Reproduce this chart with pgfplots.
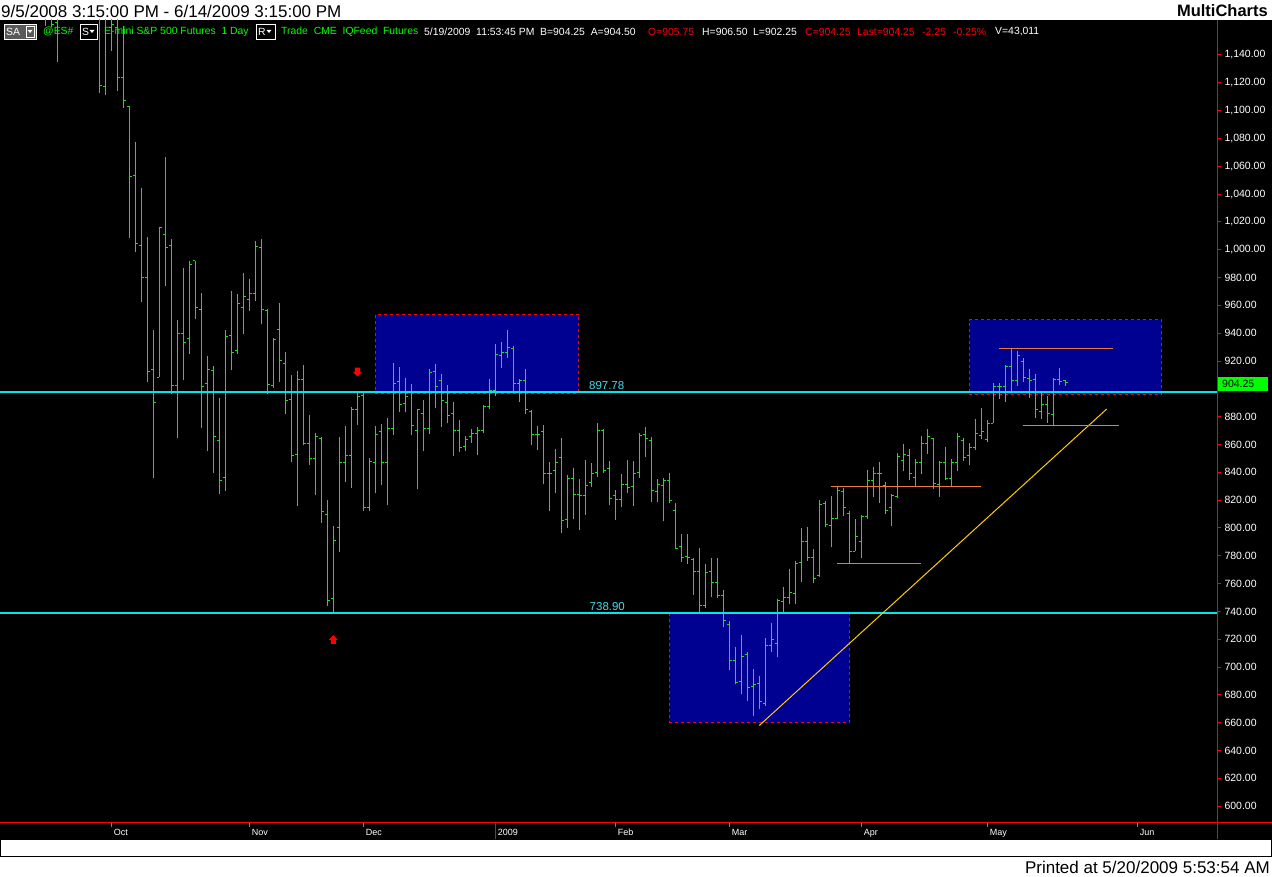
\documentclass[border=0pt]{standalone}
\usepackage{fontspec}
\setmainfont{Liberation Sans}
\usepackage{pgfplots}
\usepackage{pgfplotstable}
\pgfplotsset{compat=1.18}

\definecolor{barg}{RGB}{30,225,30}
\definecolor{cyanl}{RGB}{0,230,235}
\definecolor{cyant}{RGB}{70,215,235}
\definecolor{boxblue}{RGB}{0,0,145}
\definecolor{lvl}{RGB}{232,122,64}
\definecolor{trend}{RGB}{255,204,0}
\definecolor{hdrgreen}{RGB}{0,255,0}
\definecolor{hdrred}{RGB}{255,0,0}

% open / close ticks of an OHLC bar
\pgfdeclareplotmark{otick}{\pgfpathmoveto{\pgfqpoint{-2.6pt}{0pt}}\pgfpathlineto{\pgfqpoint{0pt}{0pt}}\pgfusepathqstroke}
\pgfdeclareplotmark{ctick}{\pgfpathmoveto{\pgfqpoint{0pt}{0pt}}\pgfpathlineto{\pgfqpoint{2.6pt}{0pt}}\pgfusepathqstroke}
\pgfdeclareplotmark{dnarrow}{%
  \pgfpathmoveto{\pgfqpoint{-2.5pt}{4.4pt}}\pgfpathlineto{\pgfqpoint{2.5pt}{4.4pt}}%
  \pgfpathlineto{\pgfqpoint{2.5pt}{0.3pt}}\pgfpathlineto{\pgfqpoint{4.4pt}{0.3pt}}%
  \pgfpathlineto{\pgfqpoint{0pt}{-4.4pt}}\pgfpathlineto{\pgfqpoint{-4.4pt}{0.3pt}}%
  \pgfpathlineto{\pgfqpoint{-2.5pt}{0.3pt}}\pgfpathclose\pgfusepathqfill}
\pgfdeclareplotmark{uparrow}{%
  \pgfpathmoveto{\pgfqpoint{-2.5pt}{-4.4pt}}\pgfpathlineto{\pgfqpoint{2.5pt}{-4.4pt}}%
  \pgfpathlineto{\pgfqpoint{2.5pt}{-0.3pt}}\pgfpathlineto{\pgfqpoint{4.4pt}{-0.3pt}}%
  \pgfpathlineto{\pgfqpoint{0pt}{4.4pt}}\pgfpathlineto{\pgfqpoint{-4.4pt}{-0.3pt}}%
  \pgfpathlineto{\pgfqpoint{-2.5pt}{-0.3pt}}\pgfpathclose\pgfusepathqfill}

% daily bars, k = trading day index from 9/5/2008
\pgfplotstableread{
k o h l c
7 1200 1215 1161 1205
8 1205 1210 1160 1162
9 1163 1200 1135 1195
16 1200 1215 1113 1118
17 1117.5 1170 1111 1166
18 1160 1170 1143 1162
19 1160 1168 1114 1124
20 1124 1160.8 1101.7 1107.5
21 1103 1103.4 1008.3 1053
22 1053.6 1077.5 998.7 1004.7
23 1003.3 1044.5 962.2 980.3
24 980 1009.3 904.6 912.3
25 913.6 942.4 835.6 890.5
26 908.3 1016.6 908.3 1016
27 1011 1067 973.6 1001.9
28 1003 1007.8 896 902.7
29 902.7 949.6 864.4 940
30 940 987 906.5 933
31 936.5 992 924.7 989.6
32 992 992 949.9 958.8
33 956.7 968.8 871.6 902
34 904 923.3 855 914.2
35 913.3 916.6 839.3 865.6
36 863 893.4 824.2 833.8
37 836 942.2 826.3 937.9
38 938 970.5 913.2 926.4
39 927.5 968.3 925.4 961
40 958.8 983.4 939.1 966.7
41 964.4 979 956.3 968.8
42 968.8 1006.4 962.8 1002.6
43 1001.6 1007.8 946.3 957.3
44 956.3 957.3 896 903.4
45 902.4 936.7 900.5 935.8
46 943 961.6 904.6 920.7
47 918.5 926.4 881.6 891.9
48 892.6 909.9 847.1 852.4
49 853 912.8 815.5 907
50 907 917 859.4 861
51 861 881 845.6 850.2
52 850.2 868.2 823.4 866
53 864.3 865.4 803.4 811.5
54 810 820 743.7 747.6
55 749 801.4 739 791.3
56 800 865.4 782.4 847.4
57 846.7 873.3 832.8 852.4
58 852.4 886.9 828.4 885.5
59 885.5 897 873.7 894.8
60 895 897 812 815
61 815 850.3 812 848
62 847.4 873.5 824.9 867.5
63 869.6 874.9 830.6 846.7
64 846.7 879.2 816.3 871.8
65 871.8 918.7 866.5 904.1
66 905.5 915.8 883.7 889
67 889.7 907.7 883.7 894.8
68 898.4 903.6 866.5 874
69 870 885.5 827.8 885.5
70 882.6 892.1 855 871.8
71 871.8 914.4 867.2 912
72 912.7 918 885.9 902
73 906.3 910.6 872.3 891.9
74 890.5 902.7 875.1 880.5
75 882.6 890.5 851.5 870
76 870 877.6 854.3 857.5
77 858.2 866 855 863.9
78 866 871 861.4 868.2
79 868.2 872.5 852.1 870.3
80 870.3 888.4 868 887.6
81 887 907 885.2 899
82 899 932.3 895.2 925
83 924.2 933.8 915.3 926.4
84 926.4 942.4 922.5 930
85 929.3 931 898.1 904
86 904 907 890.2 906.3
87 906.3 914.2 881.6 884.8
88 884 884.8 859.4 867.5
89 867.5 873.3 855.8 867.5
90 869.6 874 831.4 838.8
91 838.8 847.4 812 838.8
92 841 856.8 824.9 847.4
93 851 864.9 796.1 805
94 806 838.3 799.8 835.9
95 835.9 843.3 806.2 824.4
96 823.7 835.4 798.3 823
97 823 848.8 809.5 830.2
98 833 846.7 829.7 838.8
99 840 875.6 836.3 870.4
100 870.4 871 839.5 841.6
101 842.4 848.3 816.3 821.5
102 823 827 805.5 820.8
103 820.8 839 814.8 830.9
104 830.9 848.8 824.9 828.8
105 829.5 848.3 815.5 839.5
106 840.2 868.4 835.6 866.8
107 867.5 872.7 851.3 864
108 863 865.6 818.4 826.6
109 826 835.4 818.4 830.9
110 830.2 835.9 804.8 834.4
111 834.4 839.7 817.7 819.4
112 812.9 818.2 784.6 784.9
113 787 795.7 775.6 778.4
114 779.5 795.7 774.1 778.4
115 777 778.4 751.8 768.4
116 769 785.6 739 743.9
117 743.9 774.1 742.5 767.7
118 768.4 778.4 750.4 760.5
119 760.5 778.4 749.7 751.1
120 751.1 755.4 728.6 733.2
121 730.3 733.2 697.7 704.4
122 704.4 714.5 687.6 688.6
123 689.3 723.1 680.4 707.3
124 708.7 710.9 675.7 685
125 686 698.7 664.7 687.2
126 688 693.7 669.7 675
127 673.6 720.9 671.8 715.2
128 715.2 731.8 710.9 719.5
129 716.7 748.9 707 747.5
130 746.8 757.6 739 749.7
131 749.7 770.5 745.4 753.3
132 752.6 776.3 745.2 774.1
133 775 800 760.9 790.6
134 790 800.7 776 779
135 779 784.9 760.2 763.4
136 765.5 820 764.8 816.6
137 817.3 819.4 800.4 802.8
138 802.1 823 786 807.1
139 807.1 829.5 806.2 826.6
140 825.9 828.8 808.3 815
141 810.7 812.2 774.8 783.4
142 783.4 806.4 783.2 794.2
143 790 809.3 778.2 807.9
144 808 841.6 806.4 834.4
145 834.4 843.8 822 839.5
146 839.5 847.4 817.7 839.5
147 830.2 833 809.8 812.9
148 814.4 824.4 801.3 823
149 822.4 853.8 821.2 851.7
150 848.2 860.3 840.9 853.1
151 852.4 856.7 834.5 839.5
152 836.6 849.5 830.2 847.4
153 847.4 866 838.8 861
154 861 871.1 853.2 866
155 864.6 864.6 827.8 832.3
156 830.9 848.2 822.4 846.7
157 846.7 858.2 834.5 835.9
158 835.2 849.5 829.5 847.4
159 847.4 868.1 840.9 866
160 862.7 864.9 848 851
161 852 861 845 858
162 858 878.5 856 868
163 866.5 886.4 863.9 869
164 863.3 877.8 861.8 875.4
165 875.4 904.1 875.4 902
166 902 904.1 892.4 902
167 902 917 890.2 916.4
168 916.4 929.3 898.1 906.3
169 906.3 927.1 902 924.3
170 920 922.2 904.6 908.5
171 907.7 914.2 893.1 906.3
172 907 910.6 878.7 884.8
173 884 897 878 889
174 889 894.8 875.8 882.6
175 881.2 907.7 874 907
176 907 915 902.7 905.6
177 905.75 906.5 902.25 904.25
}\ohlc

\begin{document}
\begin{tikzpicture}[x=1pt,y=1pt]
\fill[white] (0,0) rectangle (1272,877);
\fill[black] (0,37) rectangle (1272,857);
\begin{axis}[
    at={(0pt,54pt)}, anchor=south west,
    scale only axis, width=1217pt, height=803pt,
    xmin=-0.55, xmax=202.28, ymin=587.9, ymax=1165.16,
    enlargelimits=false,
    axis x line=bottom, axis y line=right,
    axis line style={draw=red, -, line width=1pt},
    tick align=outside,
    major tick length=4pt, minor tick length=2pt,
    clip marker paths=true,
    /pgf/number format/assume math mode=true,
    ytick={600,620,640,660,680,700,720,740,760,780,800,820,840,860,880,920,940,960,980,1000,1020,1040,1060,1080,1100,1120,1140},
    minor y tick num=1,
    extra y ticks={900}, extra y tick labels={},
    y tick style={red, line width=1pt},
    yticklabel style={white, font=\fontsize{10.5}{12}\selectfont,
        /pgf/number format/.cd, fixed, fixed zerofill, precision=2, 1000 sep={,}, assume math mode=true},
    xtick={18,41,60,82,102,121,143,164,189},
    xticklabels={Oct,Nov,Dec,2009,Feb,Mar,Apr,May,Jun},
    x tick style={gray, line width=1pt},
    xticklabel style={white, font=\fontsize{9}{11}\selectfont, anchor=north west,
        text height=7pt, text depth=1pt, xshift=-1pt, yshift=2pt},
]
% highlighted zones
\addplot[fill=boxblue, draw=red, line width=1pt, dash pattern=on 3pt off 3pt] coordinates {(62,897) (95.9,897) (95.9,953.5) (62,953.5) (62,897)};
\addplot[fill=boxblue, draw=red, line width=1pt, dash pattern=on 3pt off 3pt] coordinates {(111,660) (141,660) (141,738.4) (111,738.4) (111,660)};
\addplot[fill=boxblue, draw=red, line width=1pt, dash pattern=on 3pt off 3pt] coordinates {(161,896) (193,896) (193,949.6) (161,949.6) (161,896)};

% OHLC bars
\addplot[draw=none, mark=none, forget plot,
    error bars/.cd, y dir=plus, y explicit, error mark=none,
    error bar style={draw=barg, line width=1pt, solid}]
    table[x=k, y=l, y error expr=\thisrow{h}-\thisrow{l}] {\ohlc};
\addplot[barg, only marks, mark=otick, mark options={line width=1pt, solid}] table[x=k, y=o] {\ohlc};
\addplot[barg, only marks, mark=ctick, mark options={line width=1pt, solid}] table[x=k, y=c] {\ohlc};

% support / resistance
\addplot[cyanl, line width=2pt] coordinates {(-0.55,897.78) (202.28,897.78)};
\addplot[cyanl, line width=2pt] coordinates {(-0.55,738.90) (202.28,738.90)};
\addplot[trend, line width=1pt] coordinates {(126,658) (183.9,885.5)};
\addplot[lvl, line width=1pt] coordinates {(166,929.3) (184.9,929.3)};
\addplot[lvl, line width=1pt] coordinates {(170,874) (185.9,874)};
\addplot[lvl, line width=1pt] coordinates {(138,829.5) (163,829.5)};
\addplot[lvl, line width=1pt] coordinates {(139,774.8) (152.9,774.8)};

\addplot[hdrred, only marks, mark=dnarrow, mark options={fill=hdrred, draw=none}] coordinates {(59,912)};
\addplot[hdrred, only marks, mark=uparrow, mark options={fill=hdrred, draw=none}] coordinates {(55,719.8)};

\node[cyant, anchor=south west, inner sep=0pt, font=\fontsize{11.5}{12}\selectfont] at (axis cs:97.6,899.3) {897.78};
\node[cyant, anchor=south west, inner sep=0pt, font=\fontsize{11.5}{12}\selectfont] at (axis cs:97.7,740.4) {738.90};
\end{axis}

% frame lines
\draw[red, line width=1pt] (0,54) -- (1272,54);
\draw[red, line width=1pt] (1217,37) -- (1217,857);
\draw[red, line width=1pt] (495.3,54) -- (495.3,37);
\draw[black, fill=white, line width=1pt] (0.5,20.5) rectangle (1271.5,37);

% last price tag
\fill[hdrgreen] (1218,486) rectangle (1268,500);
\node[anchor=west, inner sep=0pt, font=\fontsize{10.5}{12}\selectfont] at (1222,493) {904.25};

% title bar
\node[anchor=west, inner sep=0pt, font=\fontsize{17}{20}\selectfont] at (1,866) {9/5/2008 3:15:00 PM - 6/14/2009 3:15:00 PM};
\node[anchor=east, inner sep=0pt, font=\fontsize{16.5}{20}\bfseries] at (1268,866) {MultiCharts};
\node[anchor=east, inner sep=0pt, font=\fontsize{17}{20}\selectfont] at (1270,10) {Printed at 5/20/2009 5:53:54 AM};

% toolbar
\fill[gray!70!black] (4,838) rectangle (36,853);
\draw[white, line width=0.6pt] (4,838) rectangle (36,853);
\draw[white, line width=0.6pt] (26,840) rectangle (34,851);
\fill[white] (27.5,847) -- (32.5,847) -- (30,844) -- cycle;
\node[white, anchor=west, inner sep=0pt, font=\fontsize{10.4}{12}\selectfont] at (6,845.5) {SA};
\draw[white, line width=0.8pt] (80,838) rectangle (97,853);
\node[white, anchor=west, inner sep=0pt, font=\fontsize{10.4}{12}\selectfont] at (82,845.5) {S};
\fill[white] (89.5,847) -- (94.5,847) -- (92,844) -- cycle;
\draw[white, line width=0.8pt] (256,838) rectangle (275,853);
\node[white, anchor=west, inner sep=0pt, font=\fontsize{10.4}{12}\selectfont] at (258,845.5) {R};
\fill[white] (266.5,847) -- (271.5,847) -- (269,844) -- cycle;
\begin{scope}[every node/.style={anchor=west, inner sep=0pt, font=\fontsize{10.4}{12}\selectfont}]
\node[hdrgreen] at (43,845.5) {@ES\#};
\node[hdrgreen] at (104,845.5) {E-mini S\&P 500 Futures\ \ 1 Day};
\node[hdrgreen] at (281,845.5) {Trade\ \ CME\ \ IQFeed\ \ Futures};
\node[white] at (424,845.5) {5/19/2009\ \ 11:53:45 PM\ \ B=904.25\ \ A=904.50};
\node[hdrred] at (648,845.5) {O=905.75};
\node[white] at (702,845.5) {H=906.50};
\node[white] at (753,845.5) {L=902.25};
\node[hdrred] at (805,845.5) {C=904.25};
\node[hdrred] at (857,845.5) {Last=904.25};
\node[hdrred] at (922,845.5) {-2.25};
\node[hdrred] at (953,845.5) {-0.25\%};
\node[white] at (995,845.5) {V=43,011};
\end{scope}

\pgfresetboundingbox
\useasboundingbox (0,0) rectangle (1272,877);
\end{tikzpicture}
\end{document}
